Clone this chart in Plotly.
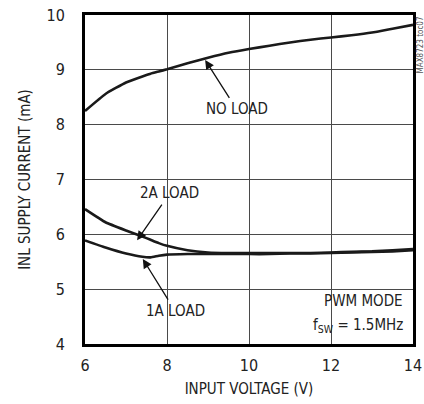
import plotly.graph_objects as go

# Input voltage (V)
vin = [6.0, 6.5, 7.0, 7.4, 7.6, 7.8, 8.0, 8.5, 9.0, 9.5, 10.0, 10.5, 11.0, 11.5, 12.0, 12.5, 13.0, 13.5, 14.0]

# INL supply current (mA) per load condition
i_no_load = [8.25, 8.56, 8.77, 8.88, 8.93, 8.97, 9.01, 9.12, 9.22, 9.31, 9.38, 9.44, 9.50, 9.55, 9.59, 9.63, 9.68, 9.75, 9.82]
i_2a_load = [6.46, 6.22, 6.07, 5.96, 5.90, 5.84, 5.79, 5.71, 5.67, 5.66, 5.66, 5.66, 5.66, 5.66, 5.67, 5.68, 5.69, 5.71, 5.73]
i_1a_load = [5.89, 5.76, 5.65, 5.59, 5.58, 5.61, 5.63, 5.64, 5.64, 5.64, 5.64, 5.64, 5.65, 5.65, 5.66, 5.67, 5.68, 5.69, 5.71]

x_ticks = [6, 8, 10, 12, 14]
y_ticks = [4, 5, 6, 7, 8, 9, 10]

FONT = "Liberation Sans Narrow, DejaVu Sans Condensed, sans-serif"
INK = "#222"

fig = go.Figure()
for ys in (i_no_load, i_2a_load, i_1a_load):
    fig.add_trace(go.Scatter(x=vin, y=ys, mode="lines",
                             line=dict(color="#1a1a1a", width=2.6, shape="spline", smoothing=0.4),
                             showlegend=False, hoverinfo="skip"))

# Curve labels: text sits at (tx, ty), arrow points to (hx, hy) on the curve
labels = [
    ("NO LOAD", 9.70, 8.28, 8.93, 9.18),
    ("2A LOAD", 8.07, 6.75, 7.27, 5.89),
    ("1A LOAD", 8.20, 4.60, 7.41, 5.55),
]
for text, tx, ty, hx, hy in labels:
    fig.add_annotation(x=hx, y=hy, ax=tx, ay=ty, xref="x", yref="y", axref="x", ayref="y",
                       text=text, showarrow=True, arrowhead=2, arrowsize=1.4, arrowwidth=1.3,
                       arrowcolor="#111", borderpad=2,
                       font=dict(family=FONT, size=15, color=INK))

fig.add_annotation(x=13.8, y=4.78, xref="x", yref="y", text="PWM MODE", showarrow=False,
                   xanchor="right", font=dict(family=FONT, size=15, color=INK))
fig.add_annotation(x=13.8, y=4.34, xref="x", yref="y",
                   text="f<sub>SW</sub> = 1.5MHz", showarrow=False,
                   xanchor="right", font=dict(family=FONT, size=15, color=INK))
fig.add_annotation(x=1.0, y=1.0, xref="paper", yref="paper", xshift=7, text="MAX8723 toc07",
                   textangle=-90, showarrow=False, xanchor="center", yanchor="top",
                   font=dict(family=FONT, size=8, color="#555"))

axis_common = dict(showgrid=True, gridcolor="#4a4a4a", gridwidth=1,
                   showline=True, linecolor="black", linewidth=3, mirror=True,
                   ticks="", zeroline=False, automargin=False,
                   tickfont=dict(family=FONT, size=16, color=INK),
                   title_font=dict(family=FONT, size=15, color=INK))

fig.update_xaxes(range=[6, 14], tickvals=x_ticks, title_text="INPUT VOLTAGE (V)",
                 ticklabelstandoff=5, title_standoff=10, **axis_common)
fig.update_yaxes(range=[4, 10], tickvals=y_ticks, title_text="INL SUPPLY CURRENT (mA)",
                 ticklabelstandoff=14, title_standoff=13, **axis_common)

fig.update_layout(width=424, height=404, margin=dict(l=85, r=11, t=15, b=60),
                  plot_bgcolor="white", paper_bgcolor="white")

fig.write_html("out.html")
